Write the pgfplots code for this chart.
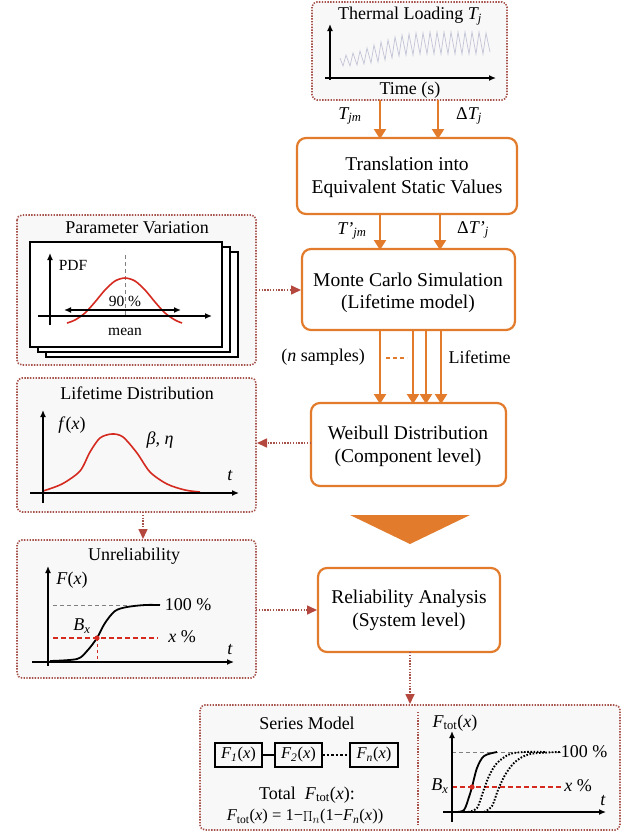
\documentclass[border=0pt]{standalone}
\usepackage{fontspec}
\setmainfont{Liberation Serif}
\usepackage{pgfplots}
\pgfplotsset{compat=1.18}
\usetikzlibrary{arrows.meta}

\definecolor{orng}{HTML}{E27B2B}
\definecolor{dotc}{HTML}{A8524C}
\definecolor{dhead}{HTML}{B4483F}
\definecolor{crv}{HTML}{D42A20}
\definecolor{wave}{HTML}{C2C4D6}
\definecolor{boxbg}{HTML}{F8F8F8}

\newcommand{\bigf}{\fontsize{19.5}{24}\selectfont}
\newcommand{\medf}{\fontsize{18}{22}\selectfont}
\newcommand{\smf}{\fontsize{15.5}{18}\selectfont}

\begin{document}
\begin{tikzpicture}[
  obox/.style={draw=orng, line width=2.2pt, rounded corners=9pt, fill=white},
  dbox/.style={draw=dotc, line width=1.6pt, dash pattern=on 1.4pt off 1.4pt, rounded corners=5pt, fill=boxbg},
  oarr/.style={draw=orng, line width=2.4pt, -{Triangle[length=10pt,width=12pt]}},
  darr/.style={draw=dotc, line width=1.6pt, dash pattern=on 1.4pt off 1.4pt, -{Triangle[length=10pt,width=9pt,color=dhead]}},
  ax/.style={black, line width=1.3pt, -{Latex[length=7pt,width=6pt]}},
]
\begin{axis}[x=1pt, y=1pt, y dir=reverse, xmin=0, xmax=626, ymin=0, ymax=838,
  hide axis, clip=false]

\fill[white] (0,0) rectangle (626,838);

% ---- thermal loading
\draw[dbox] (312,2) rectangle (507,100);
\node[font=\medf] at (410,16) {Thermal Loading \textit{T\textsubscript{j}}};
\addplot[wave, line width=0.7pt] coordinates {
 (340,58) (343,66) (346,55) (350,66) (353,53) (357,65) (360,51) (364,64) (367,48) (371,63)
 (374,45) (378,62) (381,42) (385,60) (388,40) (392,58) (395,37) (399,56) (402,35) (406,55)
 (409,34) (413,55) (416,33) (420,54) (423,33) (427,54) (430,32) (434,54) (437,32) (441,54)
 (444,32) (448,54) (451,32) (455,54) (458,32) (462,54) (465,32) (469,54) (472,32) (476,54)
 (479,32) (483,54) (486,33) (490,52)};
\draw[ax] (330,80) -- (330,24);
\draw[ax] (325,78) -- (496,78);
\node[font=\medf] at (410,90) {Time (s)};

\draw[oarr] (380,100) -- (380,139);
\draw[oarr] (438,100) -- (438,139);
\node[font=\medf] at (350,116) {\textit{T\textsubscript{jm}}};
\node[font=\medf] at (469,116) {Δ\textit{T\textsubscript{j}}};

% ---- translation
\draw[obox] (297,138) rectangle (517,214);
\node[font=\bigf] at (407,164) {Translation into};
\node[font=\bigf] at (407,189) {Equivalent Static Values};

\draw[oarr] (380,214) -- (380,250);
\draw[oarr] (440,214) -- (440,250);
\node[font=\medf] at (352,231) {\textit{T'\textsubscript{jm}}};
\node[font=\medf] at (473,230) {Δ\textit{T'\textsubscript{j}}};

% ---- monte carlo
\draw[obox] (302,249) rectangle (515,330);
\node[font=\bigf] at (408,280) {Monte Carlo Simulation};
\node[font=\bigf] at (408,304) {(Lifetime model)};

\draw[oarr] (380,330) -- (380,404);
\draw[oarr] (413,330) -- (413,404);
\draw[oarr] (426,330) -- (426,404);
\draw[oarr] (441,330) -- (441,404);
\draw[orng, line width=1.6pt, dash pattern=on 4pt off 3pt] (386,358) -- (407,358);
\node[font=\medf] at (323,357) {(\textit{n} samples)};
\node[font=\medf, anchor=west] at (445,357) {Lifetime};

% ---- weibull
\draw[obox] (311,403) rectangle (506,486);
\node[font=\bigf] at (408,433) {Weibull Distribution};
\node[font=\bigf] at (408,458) {(Component level)};

\fill[orng] (350,515) -- (470,515) -- (410,544) -- cycle;

% ---- parameter variation
\draw[dbox] (17,215) rectangle (256,365);
\node[font=\medf] at (137,228) {Parameter Variation};
\draw[black, line width=1.2pt, fill=white] (46,252) rectangle (238,357);
\draw[black, line width=1.2pt, fill=white] (38,247) rectangle (230,352);
\draw[black, line width=1.2pt, fill=white] (30,242) rectangle (222,347);
\draw[gray, line width=1pt, dash pattern=on 4pt off 3pt] (125,255) -- (125,316);
\addplot[crv, line width=1.6pt, smooth] coordinates {
 (67,323) (75,320) (85,313) (95,302) (105,290) (115,281) (125,278)
 (135,281) (145,290) (155,302) (165,313) (175,320) (182,323)};
\draw[ax] (50,325) -- (50,253);
\draw[ax] (38,316) -- (212,316);
\draw[black, line width=1.3pt, {Latex[length=7pt,width=6pt]}-{Latex[length=7pt,width=6pt]}] (64,310) -- (181,310);
\node[font=\smf] at (73,265) {PDF};
\node[font=\smf] at (125,301) {90 \%};
\node[font=\smf] at (125,332) {mean};
\draw[darr] (256,290) -- (301,290);

% ---- lifetime distribution
\draw[dbox] (17,378) rectangle (256,512);
\node[font=\medf] at (137,393) {Lifetime Distribution};
\addplot[crv, line width=1.6pt, smooth] coordinates {
 (43,491) (62,484) (80,471) (90,452) (100,438) (112,434) (123,437)
 (137,453) (150,472) (167,484) (185,490) (200,492)};
\draw[ax] (43,503) -- (43,410);
\draw[ax] (30,493) -- (239,493);
\node[font=\medf] at (72,425) {\textit{f}(\textit{x})};
\node[font=\medf] at (160,440) {\textit{β}, \textit{η}};
\node[font=\medf] at (230,476) {\textit{t}};
\draw[darr] (311,443) -- (257,443);
\draw[darr] (143,512) -- (143,539);

% ---- unreliability
\draw[dbox] (17,540) rectangle (256,678);
\node[font=\medf] at (134,556) {Unreliability};
\draw[gray, line width=1pt, dash pattern=on 4pt off 3pt] (53,605) -- (127,605);
\draw[crv, line width=1.5pt, dash pattern=on 5pt off 3pt] (53,638) -- (158,638);
\draw[crv, line width=1pt, dashed] (97,638) -- (97,662);
\addplot[black, line width=1.8pt, smooth] coordinates {
 (50,661) (77,659) (87,651) (97,638) (105,623) (115,611) (127,607) (145,605) (160,605)};
\fill[crv] (97,638) circle (2.6pt);
\draw[ax] (48,666) -- (48,566);
\draw[ax] (32,662) -- (234,662);
\node[font=\medf] at (72,580) {\textit{F}(\textit{x})};
\node[font=\medf] at (82,626) {\textit{B\textsubscript{x}}};
\node[font=\medf] at (188,605) {100 \%};
\node[font=\medf] at (182,637) {\textit{x} \%};
\node[font=\medf] at (230,650) {\textit{t}};
\draw[darr] (256,610) -- (317,610);

% ---- reliability analysis
\draw[obox] (318,568) rectangle (500,652);
\node[font=\bigf] at (409,599) {Reliability Analysis};
\node[font=\bigf] at (409,622) {(System level)};
\draw[darr] (410,652) -- (410,704);

% ---- bottom box
\draw[dbox] (200,705) rectangle (620,830);
\draw[dotc, line width=1.6pt, dash pattern=on 1.4pt off 1.4pt] (418,712) -- (418,826);
\node[font=\medf] at (307,723) {Series Model};
\draw[black, line width=1.3pt] (262,755) -- (275,755);
\draw[black, line width=1.3pt, dash pattern=on 2.5pt off 2pt] (322,755) -- (350,755);
\draw[black, line width=1.4pt] (215,743) rectangle (262,767);
\draw[black, line width=1.4pt] (275,743) rectangle (322,767);
\draw[black, line width=1.4pt] (350,743) rectangle (398,767);
\node[font=\fontsize{16.5}{20}\selectfont] at (238.5,755) {\textit{F\textsubscript{1}}(\textit{x})};
\node[font=\fontsize{16.5}{20}\selectfont] at (298.5,755) {\textit{F\textsubscript{2}}(\textit{x})};
\node[font=\fontsize{16.5}{20}\selectfont] at (374,755) {\textit{F\textsubscript{n}}(\textit{x})};
\node[font=\medf] at (307,795) {Total\enspace\textit{F}\textsubscript{tot}(\textit{x}):};
\node[font=\fontsize{16.5}{20}\selectfont] at (305,817) {\textit{F}\textsubscript{tot}(\textit{x}) = 1−$\prod\nolimits_n$(1−\textit{F\textsubscript{n}}(\textit{x}))};

\draw[gray, line width=1pt, dash pattern=on 4pt off 3pt] (452,752) -- (562,752);
\draw[crv, line width=1.5pt, dash pattern=on 5pt off 3pt] (452,787) -- (562,787);
\addplot[black, line width=1.8pt, smooth] coordinates {
 (456,812) (464,810) (469,797) (472,787) (477,768) (484,756) (497,752)};
\addplot[black, line width=1.9pt, dash pattern=on 1.6pt off 1.6pt, smooth] coordinates {
 (468,812) (477,808) (483,792) (489,776) (497,763) (510,754) (525,752) (545,752)};
\addplot[black, line width=1.9pt, dash pattern=on 1.6pt off 1.6pt, smooth] coordinates {
 (484,812) (492,806) (498,790) (505,775) (515,762) (530,754) (560,752)};
\fill[crv] (472,787) circle (2.6pt);
\draw[ax] (452,822) -- (452,731);
\draw[ax] (443,812) -- (606,812);
\node[font=\medf] at (455,723) {\textit{F}\textsubscript{tot}(\textit{x})};
\node[font=\medf] at (440,786) {\textit{B\textsubscript{x}}};
\node[font=\medf] at (584,752) {100 \%};
\node[font=\medf] at (578,786) {\textit{x} \%};
\node[font=\medf] at (603,801) {\textit{t}};

\end{axis}
\end{tikzpicture}
\end{document}
